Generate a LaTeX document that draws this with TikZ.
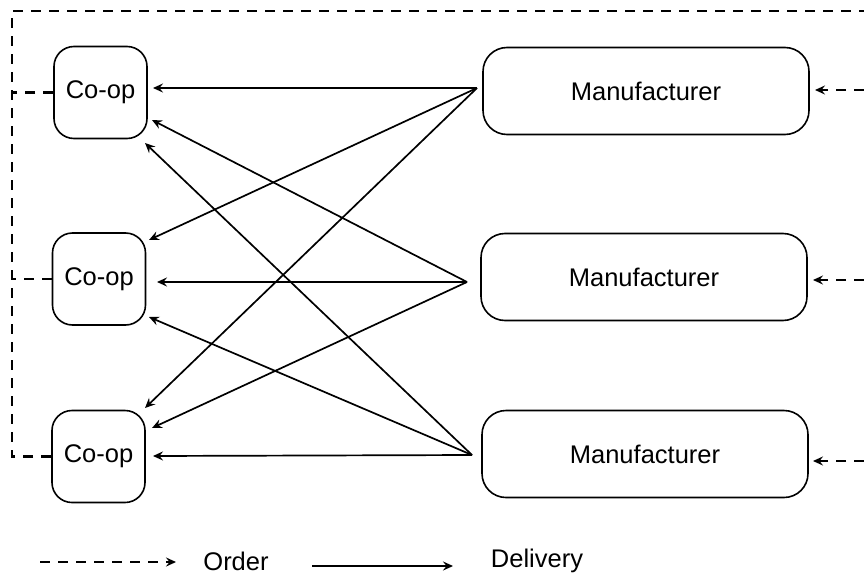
\documentclass[tikz,border=0pt]{standalone}
\usepackage{fontspec}
\setmainfont{Liberation Sans}
\usetikzlibrary{arrows.meta,calc}
\begin{document}
\begin{tikzpicture}[x=1pt,y=-1pt,
  every node/.style={font=\fontsize{25.5}{30}\selectfont},
  coop/.style={draw,line width=1.6pt,rounded corners=20pt,minimum width=93pt,minimum height=92pt,inner sep=0pt},
  maker/.style={draw,line width=1.6pt,rounded corners=24pt,minimum width=326pt,minimum height=87pt,inner sep=0pt},
  tip/.style={-{Stealth[length=10pt,width=9pt,inset=3.5pt]}},
  delivery/.style={tip,line width=1.7pt},
  order/.style={line width=2.2pt,dash pattern=on 10pt off 8pt},
  lbl/.style={draw=none}]
\useasboundingbox (0,0) rectangle (864,578);

% co-operatives
\node[coop] (c1) at (100.5,92.5) {Co-op};
\node[coop] (c2) at (99,279) {Co-op};
\node[coop] (c3) at (98.5,456.5) {Co-op};

% manufacturers
\node[maker] (m1) at (646,91) {Manufacturer};
\node[maker] (m2) at (644,277) {Manufacturer};
\node[maker] (m3) at (645,454) {Manufacturer};

% delivery start points just left of each manufacturer
\coordinate (d1) at (477,88);
\coordinate (d2) at (467,282);
\coordinate (d3) at (472,455);

% delivery end points beside each co-op
\coordinate (t11) at (153,88);   \coordinate (t21) at (152,120);  \coordinate (t31) at (145,143);
\coordinate (t12) at (149,240);  \coordinate (t22) at (157,282);  \coordinate (t32) at (149,317);
\coordinate (t13) at (145,408);  \coordinate (t23) at (152,428);  \coordinate (t33) at (153,456);

\foreach \m in {1,2,3}{
  \foreach \c in {1,2,3}{
    \draw[delivery] (d\m) -- (t\m\c);
  }
}

% order flow: co-ops out to the left, round the top, back into manufacturers
\coordinate (corner) at (12,456.5);
\coordinate (topleft) at (12,11);
\coordinate (topright) at (864,11);
\draw[order] (c3.west) -- (corner) -- (topleft) -- (topright);
\draw[order] (c1.west) -- (12,92.5);
\draw[order] (c2.west) -- (12,279);

\coordinate (r1) at (864,90);
\coordinate (r2) at (864,280);
\coordinate (r3) at (864,461);
\draw[order,tip] (r1) -- (815,90);
\draw[order,tip] (r2) -- (813,280);
\draw[order,tip] (r3) -- (813,461);

% legend
\coordinate (lo1) at (40,562);
\coordinate (lo2) at (176,562);
\draw[order,tip] (lo1) -- (lo2);
\node[lbl] (lo) at (236,561) {Order};
\coordinate (ld1) at (312,566);
\coordinate (ld2) at (453,566);
\draw[delivery] (ld1) -- (ld2);
\node[lbl] (ld) at (537,561) {Delivery};
\end{tikzpicture}
\end{document}
